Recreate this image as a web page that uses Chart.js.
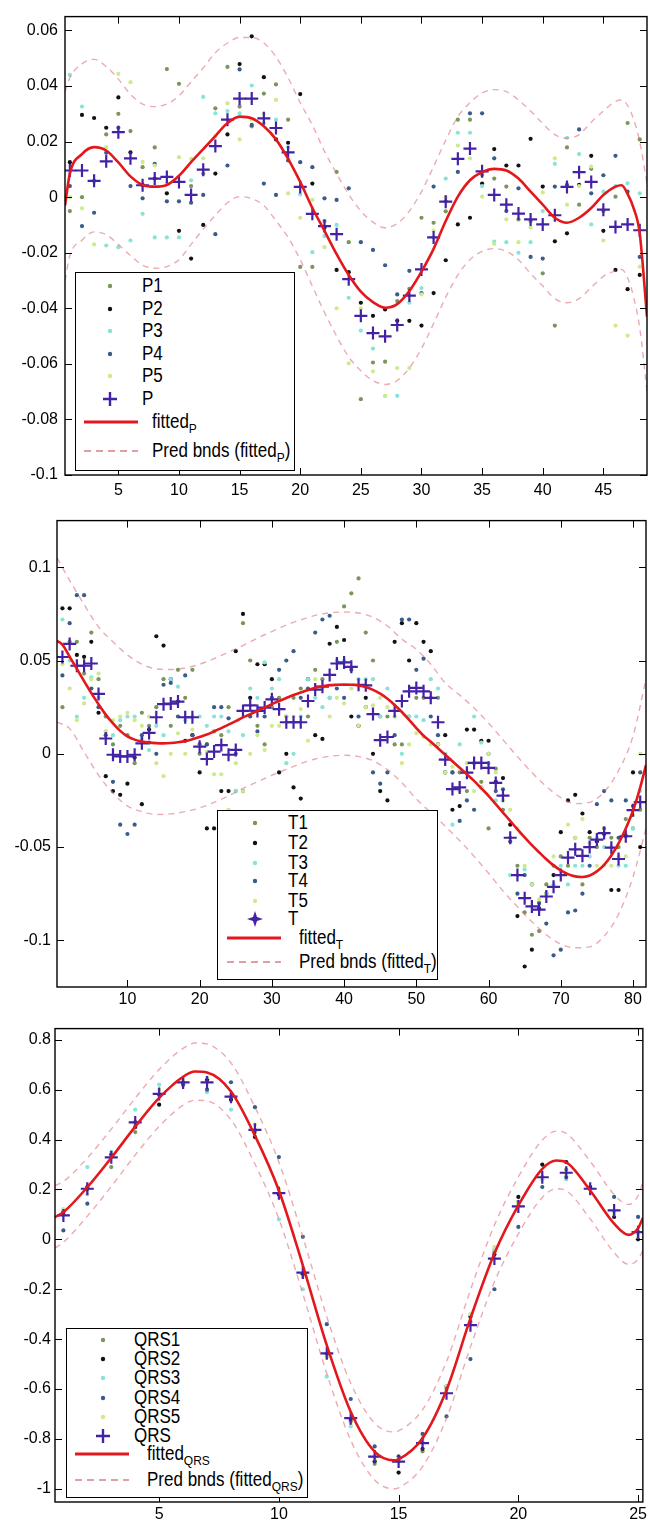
<!DOCTYPE html>
<html>
<head>
<meta charset="utf-8">
<script src="https://cdn.jsdelivr.net/npm/chart.js@4.4.0/dist/chart.umd.min.js"></script>
<style>
  body { margin: 0; background: #fff; width: 650px; height: 1528px; position: relative; overflow: hidden;
         font-family: "Liberation Sans", Arial, sans-serif; }
  canvas { position: absolute; left: 0; }
  .legend { position: absolute; box-sizing: border-box; border: 1.5px solid #000; background: #fff; }
  .legend .txt { position: absolute; height: 20px; line-height: 20px; font-size: 17px; color: #000; white-space: nowrap;
                 transform: scaleY(1.14); transform-origin: left center; }
  .legend .txt sub { font-size: 12px; vertical-align: -5px; line-height: 0; }
  .legend svg { position: absolute; overflow: visible; }
</style>
</head>
<body>
<canvas id="chartP" width="650" height="505" style="top:0"></canvas>
<canvas id="chartT" width="650" height="510" style="top:505px"></canvas>
<canvas id="chartQRS" width="650" height="513" style="top:1015px"></canvas>

<script>
// ---- P wave: five beats, their mean, fitted curve and prediction bounds ----
const p1 = [-0.005, 0, 0.006, 0.0226, 0.03, 0.0238, 0.0108, 0.0179, 0.0461, 0.0408, 0.004, 0.0085, 0.032, 0.0469, 0.0326, 0.0255,
  0.0373, 0.0406, 0.0279, -0.0251, -0.0251, -0.0086, 0.0091, -0.0162, -0.0727, -0.0595, -0.0592, -0.0374, -0.033, -0.0074,
  -0.0092, -0.0051, 0.0279, 0.0279, 0.008, 0.0067, 0.0038, -0.008, -0.0086, -0.0274, -0.0462, 0.0179, -0.0027, 0.0102, -0.005,
  0.0002, 0.0267, 0.0208];
const p2 = [0.0126, 0.0296, 0.0285, 0.025, 0.0359, 0.0161, 0.0044, 0.0067, 0.0014, -0.0121, -0.0221, -0.01, 0.0085, 0.0226,
  0.0479, 0.0579, 0.0432, 0.0208, 0.0196, 0.0371, 0.0049, -0.011, -0.0262, -0.027, -0.038, -0.0427, -0.0404, -0.0445, -0.0445,
  -0.0462, -0.0345, -0.0227, -0.0098, -0.0074, 0.0049, 0.0173, 0.0114, 0.0114, 0.021, 0.0038, -0.0159, -0.013, 0.0044, 0.0149,
  -0.0121, -0.0262, -0.0331, -0.028];
const p3 = [0.044, 0.0326, 0.0055, -0.0174, -0.018, -0.0156, -0.006, -0.0145, -0.0145, -0.0145, 0.0061, 0.0361, 0.0302, 0.031,
  0.0302, 0.0402, 0.0267, 0.0279, 0.018, 0.001, -0.0198, -0.014, -0.01, -0.0362, -0.048, -0.0545, -0.0715, -0.0715, -0.038,
  -0.0327, -0.0145, 0.0067, 0.0232, 0.0232, 0.004, -0.016, -0.0162, -0.02, -0.0162, -0.005, 0.012, 0.0214, 0.0155, -0.0098,
  0.002, 0.004, 0.005, 0.0014];
const p4 = [0.004, -0.0104, -0.0056, 0.016, 0.025, 0.004, -0.0004, 0.012, -0.0015, -0.0015, -0.002, 0.0008, -0.0133, 0.0114,
  0.046, 0.026, 0.0049, 0.0008, 0.0132, 0.0126, 0.0108, -0.0004, -0.001, 0.0032, -0.0162, -0.019, -0.0245, -0.035, -0.0265,
  -0.0345, 0.0038, -0.0015, 0.0091, 0.0302, 0.0302, 0.014, -0.005, 0.0032, -0.0215, -0.0221, 0.0038, 0.0044, 0.0244, 0.0014,
  0.0079, 0.0149, 0.002, -0.0215];
const p5 = [0, -0.004, -0.017, 0.018, 0.0444, 0.0414, 0.0127, 0.0114, 0.005, 0.0144, 0.0138, 0.014, 0.022, 0.0338, 0.0208,
  0.028, 0.03, 0.035, 0.0014, -0.0074, -0.001, -0.018, -0.04, -0.0598, -0.04, -0.0627, -0.0715, -0.0615, -0.0615, -0.035,
  -0.012, 0, 0.0186, 0.014, 0.0002, -0.0168, -0.008, -0.0162, -0.0109, 0.0017, 0.014, -0.0027, 0.004, 0.011, -0.0156, -0.0462,
  -0.0498, -0.025];
const pMean = [0.0096, 0.0096, 0.0059, 0.0129, 0.0234, 0.014, 0.0043, 0.0067, 0.0073, 0.0055, 0.0008, 0.0099, 0.0184, 0.0279,
  0.0355, 0.0355, 0.0284, 0.0249, 0.0161, 0.0037, -0.006, -0.0104, -0.0133, -0.0295, -0.0427, -0.0489, -0.0501, -0.046, -0.0354,
  -0.026, -0.0145, -0.0016, 0.0138, 0.0175, 0.0093, 0.0008, -0.0027, -0.0059, -0.008, -0.0098, -0.0065, 0.0037, 0.009, 0.0055,
  -0.0045, -0.0107, -0.0098, -0.0119];
const pFitX = [0.6, 1, 2, 3, 4, 5, 6, 7, 8, 9, 10, 11, 12, 13, 14, 15, 16, 17, 18, 19, 20, 21, 22, 23, 24, 25, 26, 27, 28, 29,
  30, 31, 32, 33, 34, 35, 36, 37, 38, 39, 40, 41, 42, 43, 44, 45, 46, 46.5, 47, 47.5, 48, 48.6];
const pFit = [-0.003, 0.0085, 0.0155, 0.018, 0.0168, 0.0125, 0.0075, 0.0044, 0.0038, 0.0044, 0.0077, 0.0126, 0.0173, 0.022,
  0.0267, 0.029, 0.0284, 0.0255, 0.0208, 0.0138, 0.0055, -0.0039, -0.0121, -0.0205, -0.028, -0.034, -0.0378, -0.0398, -0.0385,
  -0.0338, -0.0268, -0.0186, -0.0086, 0.0002, 0.0061, 0.009, 0.0102, 0.0096, 0.0067, 0.002, -0.0027, -0.0074, -0.0092, -0.0074,
  -0.0039, 0.0008, 0.0038, 0.0043, 0.0012, -0.004, -0.013, -0.043];
const pUpper = [0.038, 0.043, 0.048, 0.0496, 0.047, 0.0425, 0.037, 0.0335, 0.0326, 0.0335, 0.0365, 0.0415, 0.0465, 0.052,
  0.0555, 0.0575, 0.0575, 0.0555, 0.0505, 0.043, 0.034, 0.026, 0.0165, 0.0085, 0.001, -0.005, -0.009, -0.011, -0.0095, -0.005,
  0.002, 0.011, 0.0205, 0.029, 0.034, 0.0375, 0.0387, 0.038, 0.035, 0.031, 0.0265, 0.0225, 0.0212, 0.0225, 0.027, 0.031, 0.0345,
  0.035, 0.033, 0.028, 0.02, 0.005];
const pLower = [-0.03, -0.021, -0.0155, -0.0125, -0.0135, -0.017, -0.021, -0.0245, -0.0256, -0.025, -0.0225, -0.017, -0.0115,
  -0.0065, -0.002, 0.0002, -0.0005, -0.003, -0.0085, -0.0145, -0.0225, -0.032, -0.0415, -0.05, -0.0575, -0.0625, -0.066, -0.0674,
  -0.066, -0.0615, -0.0545, -0.0455, -0.036, -0.028, -0.0225, -0.0195, -0.0185, -0.0195, -0.0225, -0.0275, -0.032, -0.0365,
  -0.038, -0.0365, -0.0325, -0.0285, -0.0265, -0.026, -0.029, -0.036, -0.047, -0.07];
const pXTicks = [5, 10, 15, 20, 25, 30, 35, 40, 45];
const pYTicks = [-0.1, -0.08, -0.06, -0.04, -0.02, 0, 0.02, 0.04, 0.06];

// ---- T wave ----
const t1 = [0.025, 0.06, 0.06, 0.043, 0.065, 0.04, 0.02, 0.005, 0.015, 0.01, -0.005, 0.022, 0.015, 0.025, 0.04, 0.015, 0.045,
  0.03, 0.045, 0, 0.005, 0.012, 0.01, 0.025, -0.02, 0.07, 0.05, 0.015, 0.005, 0.025, 0.03, 0.02, 0.03, 0.035, 0.02, 0.045, 0.04,
  0.03, 0.06, 0.079, 0.086, 0.094, 0.065, 0.05, 0.02, 0.02, 0.005, 0.005, 0.02, 0.03, 0.03, 0.03, 0.03, -0.01, -0.01, -0.01,
  -0.02, -0.005, -0.015, -0.04, -0.008, -0.03, -0.045, -0.06, -0.085, -0.097, -0.095, -0.07, -0.06, -0.055, -0.06, -0.045, -0.07,
  -0.045, -0.05, -0.04, -0.045, -0.05, -0.035, -0.04, -0.03];
const t2 = [0.078, 0.078, 0.053, 0.052, 0.06, 0.022, -0.012, -0.02, -0.022, -0.016, -0.002, -0.027, 0.013, 0.063, 0.058, 0.04,
  0.028, 0.007, 0.01, -0.01, -0.04, -0.04, -0.02, -0.02, 0.055, 0.075, 0.03, 0.048, 0.048, 0.04, -0.01, 0, -0.018, -0.024, 0.04,
  0.01, 0.008, 0.059, 0.068, 0.061, 0.02, 0.015, 0.03, 0, -0.02, -0.025, 0.06, 0.07, 0.05, 0.07, 0.06, 0.055, 0.005, 0.01, -0.03,
  -0.028, 0.013, 0.013, 0.007, 0.007, -0.015, -0.013, -0.038, -0.087, -0.114, -0.105, -0.083, -0.075, -0.065, -0.042, -0.025,
  -0.022, -0.032, -0.042, -0.047, -0.043, -0.073, -0.073, -0.044, -0.01, -0.05];
const t3 = [0.072, 0.05, 0.02, 0.03, 0.041, 0.03, 0.012, 0.01, 0.018, 0.02, 0.02, 0.008, 0.002, 0.015, 0.01, 0.04, 0.036, 0.018,
  0.02, 0.02, 0.015, 0.02, 0.02, 0.012, -0.02, 0.01, 0.035, 0.03, 0.049, 0.035, 0.04, -0.005, 0, 0.02, 0.04, 0.03, 0.025, 0.03,
  0.05, 0.05, 0.046, 0.04, 0.04, 0.04, 0.02, 0.035, 0.02, 0, 0.02, 0.02, 0.018, 0.04, 0.035, 0, -0.038, 0.005, -0.01, 0.02,
  0.006, -0.005, -0.025, -0.025, -0.065, -0.065, -0.062, -0.07, -0.08, -0.075, -0.07, -0.06, -0.07, -0.06, -0.06, -0.055, -0.045,
  -0.05, -0.05, -0.06, -0.06, -0.04, -0.02];
const t4 = [0.042, 0.07, 0.085, 0.085, 0.035, 0.025, 0.01, -0.015, -0.038, -0.043, -0.038, 0.01, 0.006, 0, 0.037, 0.038, 0.02,
  0.042, 0.01, 0.005, 0.005, 0.025, 0.025, 0.019, 0, -0.02, 0.02, 0.012, 0.02, 0.03, 0.045, 0.05, 0.055, 0.03, 0.035, 0.065,
  0.072, 0.074, 0.035, 0.03, 0.045, 0.02, 0.025, -0.01, -0.016, -0.01, 0.01, 0.072, 0.072, 0.045, 0.051, 0.02, 0.01, -0.01, -0.01,
  -0.036, -0.025, -0.03, -0.018, 0, -0.02, -0.019, -0.047, -0.075, -0.065, -0.07, -0.08, -0.091, -0.108, -0.105, -0.085, -0.084,
  -0.075, -0.06, -0.027, -0.02, -0.025, -0.045, -0.025, -0.028, -0.01];
const t5 = [0.048, 0.035, 0.018, 0.027, 0.04, 0.043, 0.012, 0.018, 0.02, 0.022, 0.018, 0.015, 0.02, -0.005, -0.012, 0, 0.011, 0,
  0.013, 0.004, 0.001, -0.011, -0.011, -0.03, -0.005, -0.02, 0, 0.01, 0.002, 0.015, 0.015, 0.02, 0.02, 0.024, 0.007, 0.04, 0.035,
  0.02, 0.03, 0.027, 0.035, 0.015, 0.025, 0.026, 0.03, 0.025, 0.02, -0.005, 0.005, 0.011, 0.009, 0.005, 0.005, -0.01, -0.007,
  -0.02, -0.005, -0.02, -0.018, 0, -0.01, -0.025, -0.03, -0.04, -0.06, -0.07, -0.078, -0.075, -0.055, -0.063, -0.038, -0.045,
  -0.035, -0.048, -0.06, -0.06, -0.06, -0.055, -0.055, -0.033, 0];
const tMean = [0.0519, 0.0589, 0.0472, 0.0472, 0.0484, 0.0321, 0.0082, -0.0005, -0.0014, -0.0014, -0.0005, 0.0056, 0.0112,
  0.0196, 0.0266, 0.0269, 0.028, 0.0196, 0.0196, 0.0038, -0.0028, 0.0012, 0.0047, -0.0005, 0.0021, 0.023, 0.026, 0.023, 0.0248,
  0.0292, 0.0239, 0.0169, 0.0169, 0.0169, 0.0283, 0.0344, 0.036, 0.0423, 0.0484, 0.049, 0.0466, 0.037, 0.0367, 0.0213, 0.0073,
  0.009, 0.023, 0.0283, 0.0335, 0.0353, 0.0335, 0.03, 0.0169, -0.0031, -0.0189, -0.018, -0.0101, -0.0049, -0.0049, -0.0075,
  -0.0156, -0.0224, -0.045, -0.065, -0.0774, -0.0818, -0.0835, -0.0765, -0.0713, -0.065, -0.0556, -0.0512, -0.0547, -0.05,
  -0.046, -0.0425, -0.0503, -0.0564, -0.0442, -0.0302, -0.0259];
const tFitX = [0.25, 1, 2, 3, 4, 5, 6, 7, 8, 9, 10, 11, 12, 13, 14, 15, 16, 17, 18, 19, 20, 21, 22, 23, 24, 25, 26, 27, 28, 29,
  30, 31, 32, 33, 34, 35, 36, 37, 38, 39, 40, 41, 42, 43, 44, 45, 46, 47, 48, 49, 50, 51, 52, 53, 54, 55, 56, 57, 58, 59, 60, 61,
  62, 63, 64, 65, 66, 67, 68, 69, 70, 71, 72, 73, 74, 75, 76, 77, 78, 79, 80, 81, 81.8];
const tFit = [0.0606, 0.0585, 0.052, 0.0455, 0.039, 0.0325, 0.0266, 0.021, 0.0163, 0.0123, 0.0093, 0.0076, 0.0066, 0.006,
  0.0057, 0.0056, 0.0058, 0.0062, 0.0068, 0.0078, 0.009, 0.0103, 0.012, 0.0138, 0.0156, 0.0175, 0.0195, 0.0213, 0.023, 0.0248,
  0.0266, 0.0283, 0.0299, 0.0315, 0.0329, 0.0342, 0.0354, 0.0362, 0.0368, 0.037, 0.0371, 0.037, 0.0366, 0.0358, 0.0343, 0.0322,
  0.0295, 0.0262, 0.0224, 0.0182, 0.0138, 0.0097, 0.0065, 0.003, -0.0005, -0.004, -0.0075, -0.011, -0.0145, -0.0185, -0.0225,
  -0.027, -0.0315, -0.036, -0.0405, -0.0448, -0.049, -0.0528, -0.0565, -0.0598, -0.0625, -0.0645, -0.0657, -0.066, -0.0652,
  -0.063, -0.0595, -0.0545, -0.048, -0.04, -0.0305, -0.018, -0.006];
const tBndX = [0.25, 2, 4, 6, 8, 10, 12, 14, 16, 18, 20, 22, 24, 26, 28, 30, 32, 34, 36, 38, 40, 42, 44, 46, 48, 50, 52, 54, 56,
  58, 60, 62, 64, 66, 68, 70, 72, 74, 76, 78, 80, 81.8];
const tUpper = [0.105, 0.093, 0.08, 0.068, 0.06, 0.053, 0.048, 0.0455, 0.0452, 0.046, 0.048, 0.051, 0.0545, 0.058, 0.062, 0.0655,
  0.069, 0.0718, 0.0742, 0.0756, 0.076, 0.0755, 0.0732, 0.0685, 0.0615, 0.056, 0.048, 0.038, 0.0315, 0.0245, 0.0165, 0.0075,
  -0.0015, -0.01, -0.0175, -0.0235, -0.0267, -0.026, -0.0205, -0.009, 0.0095, 0.04];
const tLower = [0.017, 0.0135, 0.001, -0.0115, -0.021, -0.028, -0.031, -0.0325, -0.0322, -0.031, -0.029, -0.026, -0.0225, -0.0185,
  -0.015, -0.0115, -0.0083, -0.0052, -0.0028, -0.0013, -0.0008, -0.0015, -0.0037, -0.0085, -0.0155, -0.0242, -0.0315, -0.0388,
  -0.0465, -0.055, -0.064, -0.0735, -0.082, -0.09, -0.097, -0.102, -0.104, -0.1035, -0.0978, -0.086, -0.066, -0.04];
const tXTicks = [10, 20, 30, 40, 50, 60, 70, 80];
const tYTicks = [-0.1, -0.05, 0, 0.05, 0.1];

// ---- QRS complex ----
const q1 = [0.1, 0.2, 0.29, 0.43, 0.58, 0.62, 0.64, 0.58, 0.43, 0.2, -0.14, -0.47, -0.73, -0.9, -0.89, -0.85, -0.6, -0.33,
  -0.05, 0.15, 0.25, 0.28, 0.2, 0.11, 0.03];
const q2 = [0.11, 0.21, 0.34, 0.45, 0.54, 0.63, 0.64, 0.56, 0.41, 0.18, -0.14, -0.46, -0.72, -0.89, -0.935, -0.84, -0.59, -0.31,
  -0.06, 0.17, 0.3, 0.31, 0.21, 0.09, 0];
const q3 = [0.12, 0.29, 0.35, 0.52, 0.62, 0.64, 0.59, 0.52, 0.44, 0.08, -0.2, -0.55, -0.75, -0.87, -0.88, -0.8, -0.6, -0.3,
  -0.04, 0.14, 0.24, 0.24, 0.2, 0.11, 0.02];
const q4 = [0.036, 0.143, 0.33, 0.47, 0.58, 0.62, 0.6, 0.63, 0.53, 0.33, 0.01, -0.34, -0.64, -0.83, -0.87, -0.78, -0.71, -0.48,
  -0.2, 0.05, 0.21, 0.25, 0.2, 0.17, 0.09];
const q5 = [0.12, 0.18, 0.33, 0.46, 0.6, 0.64, 0.65, 0.58, 0.46, 0.2, -0.15, -0.47, -0.74, -0.88, -0.88, -0.81, -0.59, -0.3,
  -0.03, 0.15, 0.24, 0.26, 0.2, 0.1, 0.01];
const qMean = [0.096, 0.203, 0.329, 0.469, 0.583, 0.629, 0.629, 0.572, 0.439, 0.185, -0.133, -0.457, -0.717, -0.871, -0.891,
  -0.817, -0.617, -0.344, -0.077, 0.132, 0.249, 0.267, 0.203, 0.116, 0.029];
const qFitX = [0.65, 1, 2, 3, 4, 5, 6, 6.5, 7, 8, 9, 10, 11, 12, 13, 14, 14.8, 15, 16, 17, 18, 19, 20, 21, 21.6, 22, 23, 24,
  24.6, 25, 25.2];
const qFit = [0.089, 0.109, 0.209, 0.327, 0.452, 0.567, 0.652, 0.673, 0.669, 0.593, 0.416, 0.196, -0.104, -0.424, -0.691, -0.851,
  -0.886, -0.882, -0.797, -0.604, -0.317, -0.057, 0.136, 0.283, 0.316, 0.309, 0.196, 0.063, 0.018, 0.045, 0.085];
const qUpper = [0.216, 0.232, 0.326, 0.442, 0.566, 0.681, 0.766, 0.787, 0.783, 0.707, 0.53, 0.31, 0.01, -0.31, -0.577, -0.737,
  -0.772, -0.768, -0.683, -0.49, -0.203, 0.057, 0.25, 0.398, 0.434, 0.425, 0.313, 0.18, 0.14, 0.175, 0.23];
const qLower = [-0.035, -0.012, 0.093, 0.212, 0.338, 0.453, 0.538, 0.558, 0.555, 0.479, 0.302, 0.082, -0.218, -0.538, -0.805,
  -0.965, -1, -0.996, -0.911, -0.718, -0.431, -0.171, 0.022, 0.168, 0.203, 0.195, 0.082, -0.053, -0.1, -0.08, -0.045];
const qXTicks = [5, 10, 15, 20, 25];
const qYTicks = [-1, -0.8, -0.6, -0.4, -0.2, 0, 0.2, 0.4, 0.6, 0.8];

const dotColors = ['rgb(122,150,92)', 'rgb(18,18,18)', 'rgb(135,228,215)', 'rgb(58,92,138)', 'rgb(205,235,140)'];
const meanColor = 'rgb(68,34,165)';
const fitColor = 'rgb(228,24,28)';
const bndColor = 'rgba(222,120,128,0.62)';

Chart.defaults.font.family = '"Liberation Sans", Arial, sans-serif';
Chart.defaults.font.size = 16;
Chart.defaults.color = '#000';

function pts(xs, ys) {
  return ys.map((y, i) => ({ x: xs ? xs[i] : i + 1, y: y }));
}

function fmt(v) {
  return String(Number(v.toFixed(4)));
}

// boxed axes with inward tick marks on all four sides
const boxFrame = {
  id: 'boxFrame',
  afterDatasetsDraw(chart) {
    const { ctx, chartArea: a, scales: { x, y } } = chart;
    const len = 7;
    ctx.save();
    ctx.strokeStyle = '#000';
    ctx.lineWidth = 1.4;
    ctx.strokeRect(a.left, a.top, a.right - a.left, a.bottom - a.top);
    ctx.lineWidth = 1;
    ctx.beginPath();
    x.ticks.forEach(t => {
      const px = Math.round(x.getPixelForValue(t.value)) + 0.5;
      ctx.moveTo(px, a.bottom); ctx.lineTo(px, a.bottom - len);
      ctx.moveTo(px, a.top); ctx.lineTo(px, a.top + len);
    });
    y.ticks.forEach(t => {
      const py = Math.round(y.getPixelForValue(t.value)) + 0.5;
      ctx.moveTo(a.left, py); ctx.lineTo(a.left + len, py);
      ctx.moveTo(a.right, py); ctx.lineTo(a.right - len, py);
    });
    ctx.stroke();
    ctx.restore();
  }
};

function makeChart(id, d, g) {
  const H = document.getElementById(id).height;
  const dots = d.series.map((s, k) => ({
    data: pts(null, s), pointStyle: 'circle', pointRadius: 2.1, backgroundColor: dotColors[k], borderWidth: 0
  })).reverse();
  const line = (xs, ys, color, width, dash) => ({
    data: pts(xs, ys), showLine: true, pointRadius: 0, borderColor: color, borderWidth: width,
    borderDash: dash, cubicInterpolationMode: 'monotone', fill: false
  });
  return new Chart(document.getElementById(id), {
    type: 'scatter',
    data: {
      datasets: [
        line(d.bndX, d.upper, bndColor, 1.4, [6, 5]),
        line(d.bndX, d.lower, bndColor, 1.4, [6, 5]),
        line(d.fitX, d.fit, fitColor, 2.6, []),
        { data: pts(null, d.mean), pointStyle: 'cross', pointRadius: 6.5, borderColor: meanColor, borderWidth: 2.2 },
        ...dots
      ]
    },
    options: {
      animation: false,
      responsive: false,
      events: [],
      layout: { autoPadding: false, padding: { top: g.top, right: 650 - g.right, left: 0, bottom: 0 } },
      plugins: { legend: { display: false }, tooltip: { enabled: false } },
      scales: {
        x: {
          type: 'linear', min: d.xMin, max: d.xMax,
          grid: { display: false, drawTicks: false }, border: { display: false },
          ticks: { padding: g.xPad, maxRotation: 0, autoSkip: false, callback: fmt },
          afterBuildTicks: s => { s.ticks = d.xTicks.map(v => ({ value: v })); },
          afterFit: s => { s.height = H - g.bottom; }
        },
        y: {
          type: 'linear', min: d.yMin, max: d.yMax,
          grid: { display: false, drawTicks: false }, border: { display: false },
          ticks: { padding: g.yPad, autoSkip: false, callback: fmt },
          afterBuildTicks: s => { s.ticks = d.yTicks.map(v => ({ value: v })); },
          afterFit: s => { s.width = g.left; }
        }
      }
    },
    plugins: [boxFrame]
  });
}

makeChart('chartP', {
  series: [p1, p2, p3, p4, p5], mean: pMean, fitX: pFitX, fit: pFit, bndX: pFitX, upper: pUpper, lower: pLower,
  xMin: 0.6, xMax: 48.6, yMin: -0.1, yMax: 0.065, xTicks: pXTicks, yTicks: pYTicks
}, { left: 65, top: 8, right: 647, bottom: 475, xPad: 6, yPad: 7 });

makeChart('chartT', {
  series: [t1, t2, t3, t4, t5], mean: tMean, fitX: tFitX, fit: tFit, bndX: tBndX, upper: tUpper, lower: tLower,
  xMin: 0.25, xMax: 81.8, yMin: -0.125, yMax: 0.125, xTicks: tXTicks, yTicks: tYTicks
}, { left: 57, top: 8, right: 646, bottom: 482, xPad: 3, yPad: 6 });

makeChart('chartQRS', {
  series: [q1, q2, q3, q4, q5], mean: qMean, fitX: qFitX, fit: qFit, bndX: qFitX, upper: qUpper, lower: qLower,
  xMin: 0.65, xMax: 25.2, yMin: -1.053, yMax: 0.845, xTicks: qXTicks, yTicks: qYTicks
}, { left: 55, top: 13, right: 646, bottom: 487, xPad: 3, yPad: 4 });

// ---- legends (page coordinates) ----
function marker(kind, color) {
  const ns = 'http://www.w3.org/2000/svg';
  const svg = document.createElementNS(ns, 'svg');
  svg.setAttribute('width', '1');
  svg.setAttribute('height', '1');
  let html = '';
  if (kind === 'dot') html = `<circle cx="0" cy="0" r="2.2" fill="${color}"/>`;
  if (kind === 'cross') html = `<path d="M-7 0H7M0 -7V7" stroke="${color}" stroke-width="2.4"/>`;
  if (kind === 'star') html = `<path d="M0 -8L2 -2L8 0L2 2L0 8L-2 2L-8 0L-2 -2Z" fill="${color}"/>`;
  if (kind === 'line') html = `<path d="M-27 0H27" stroke="${color}" stroke-width="3.2"/>`;
  if (kind === 'dash') html = `<path d="M-27 0H27" stroke="${color}" stroke-width="1.6" stroke-dasharray="7 5"/>`;
  svg.innerHTML = html;
  return svg;
}

function addLegend(box, rows) {
  const el = document.createElement('div');
  el.className = 'legend';
  Object.assign(el.style, {
    left: box.left + 'px', top: box.top + 'px', width: (box.right - box.left) + 'px', height: (box.bottom - box.top) + 'px'
  });
  rows.forEach(r => {
    const m = marker(r.kind, r.color);
    m.style.left = (r.mx - box.left) + 'px';
    m.style.top = (r.y - box.top) + 'px';
    el.appendChild(m);
    const t = document.createElement('div');
    t.className = 'txt';
    t.innerHTML = r.label;
    t.style.left = (r.tx - box.left) + 'px';
    t.style.top = (r.y - box.top - 10) + 'px';
    el.appendChild(t);
  });
  document.body.appendChild(el);
}

function legendRows(names, sub, meanKind, ys, mx, tx, tx2, lineY) {
  const rows = names.map((n, k) => ({ kind: 'dot', color: dotColors[k], label: n, y: ys[k], mx: mx, tx: tx }));
  rows.push({ kind: meanKind, color: meanColor, label: sub, y: ys[5], mx: mx, tx: tx });
  rows.push({ kind: 'line', color: fitColor, label: `fitted<sub>${sub}</sub>`, y: ys[6], mx: lineY, tx: tx2 });
  rows.push({ kind: 'dash', color: 'rgba(205,95,105,0.8)', label: `Pred bnds (fitted<sub>${sub}</sub>)`, y: ys[7], mx: lineY, tx: tx2 });
  return rows;
}

addLegend({ left: 75, top: 272, right: 295, bottom: 471 },
  legendRows(['P1', 'P2', 'P3', 'P4', 'P5'], 'P', 'cross',
    [285, 308, 330, 353, 375, 398, 421, 450], 109, 141, 151, 110));

addLegend({ left: 217, top: 810, right: 438, bottom: 980 },
  legendRows(['T1', 'T2', 'T3', 'T4', 'T5'], 'T', 'star',
    [822, 842, 862, 880, 900, 918, 937, 961], 254, 287, 298, 253));

addLegend({ left: 66, top: 1328, right: 308, bottom: 1498 },
  legendRows(['QRS1', 'QRS2', 'QRS3', 'QRS4', 'QRS5'], 'QRS', 'cross',
    [1339, 1358, 1377, 1397, 1416, 1435, 1453, 1479], 102, 133, 146, 101));
</script>
</body>
</html>
